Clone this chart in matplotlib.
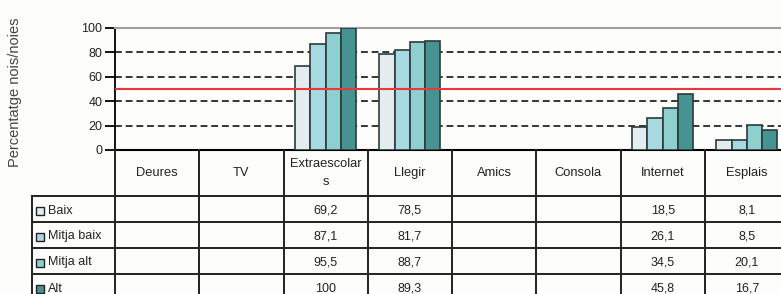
import numpy as np
import matplotlib.pyplot as plt
from matplotlib.patches import Rectangle

plt.rcParams['font.family'] = ['Liberation Sans', 'DejaVu Sans']

# Data
categories = ['Deures', 'TV', 'Extraescolar\ns', 'Llegir', 'Amics', 'Consola', 'Internet', 'Esplais']
groups = ['Baix', 'Mitja baix', 'Mitja alt', 'Alt']
baix = [np.nan, np.nan, 69.2, 78.5, np.nan, np.nan, 18.5, 8.1]
mitja_baix = [np.nan, np.nan, 87.1, 81.7, np.nan, np.nan, 26.1, 8.5]
mitja_alt = [np.nan, np.nan, 95.5, 88.7, np.nan, np.nan, 34.5, 20.1]
alt = [np.nan, np.nan, 100, 89.3, np.nan, np.nan, 45.8, 16.7]
series = [baix, mitja_baix, mitja_alt, alt]
colors = ['#e3ecee', '#a8d9e0', '#8ecfcf', '#479391']
threshold = 50

W, H = 781, 294
fig = plt.figure(figsize=(W / 100, H / 100), dpi=100)
fig.patch.set_facecolor('#fdfdfb')

# plot area in pixels
x0, x1 = 115, 789
y_top, y_bot = 28, 150
ax = fig.add_axes([x0 / W, 1 - y_bot / H, (x1 - x0) / W, (y_bot - y_top) / H])
ax.set_facecolor('none')

n = len(categories)
x = np.arange(n)
bw = 0.181
for i, (vals, c) in enumerate(zip(series, colors)):
    ax.bar(x + (i - 1.5) * bw, vals, bw, color=c, edgecolor='#2b3b3b', linewidth=1.2, zorder=3)

for yv in [20, 40, 60, 80]:
    ax.axhline(yv, color='black', linestyle=(0, (4.5, 2.5)), linewidth=1.1, zorder=1)
ax.axhline(threshold, color='#e8383c', linewidth=1.5, zorder=4)

ax.set_xlim(-0.5, n - 0.5)
ax.set_ylim(0, 100)
ax.set_yticks([0, 20, 40, 60, 80, 100])
ax.tick_params(axis='y', direction='out', length=7, width=1.3, labelsize=9, pad=2,
               labelcolor='#222222')
ax.set_xticks([])
ax.spines['top'].set_color('#a0a0a0')
ax.spines['top'].set_linewidth(1.5)
ax.spines['right'].set_visible(False)
ax.spines['left'].set_linewidth(1.3)
ax.spines['bottom'].set_linewidth(1.5)

fig.text(15 / W, 1 - 92 / H, 'Percentatge nois/noies', rotation=90,
         ha='center', va='center', fontsize=10.5, color='#444444')

# table drawn below the plot area
tx0 = 32
t_bot = 300
tax = fig.add_axes([tx0 / W, 1 - t_bot / H, (x1 - tx0) / W, (t_bot - y_bot) / H])
tax.axis('off')
lw = (x0 - tx0) / ((x1 - x0) / n)
tax.set_xlim(-0.5 - lw, n - 0.5)
tax.set_ylim(t_bot, y_bot)

row_y = [196, 222, 248, 274, 300]
lc = '#222222'
for k in range(n + 1):
    tax.plot([k - 0.5, k - 0.5], [y_bot, t_bot], color=lc, lw=1.4, clip_on=False)
tax.plot([-0.5 - lw, -0.5 - lw], [row_y[0], t_bot], color=lc, lw=1.4, clip_on=False)
for ry in row_y[:-1]:
    tax.plot([-0.5 - lw, n - 0.5], [ry, ry], color=lc, lw=1.4, clip_on=False)

for k, cat in enumerate(categories):
    tax.text(k, (y_bot + row_y[0]) / 2, cat, ha='center', va='center',
             fontsize=9.3, color='#222222', linespacing=1.6)

for r, (g, vals, c) in enumerate(zip(groups, series, colors)):
    cy = (row_y[r] + row_y[r + 1]) / 2 + 1.5
    tax.add_patch(Rectangle((-0.5 - lw + 0.05, cy - 4), 0.09, 8, facecolor=c,
                            edgecolor='#222222', lw=1.0, clip_on=False))
    tax.text(-0.5 - lw + 0.19, cy, g, ha='left', va='center', fontsize=9, color='#222222')
    for k, v in enumerate(vals):
        if not np.isnan(v):
            txt = f'{v:g}'.replace('.', ',')
            tax.text(k, cy, txt, ha='center', va='center', fontsize=9, color='#222222')

fig.savefig('out.png', dpi=100, facecolor=fig.get_facecolor())
